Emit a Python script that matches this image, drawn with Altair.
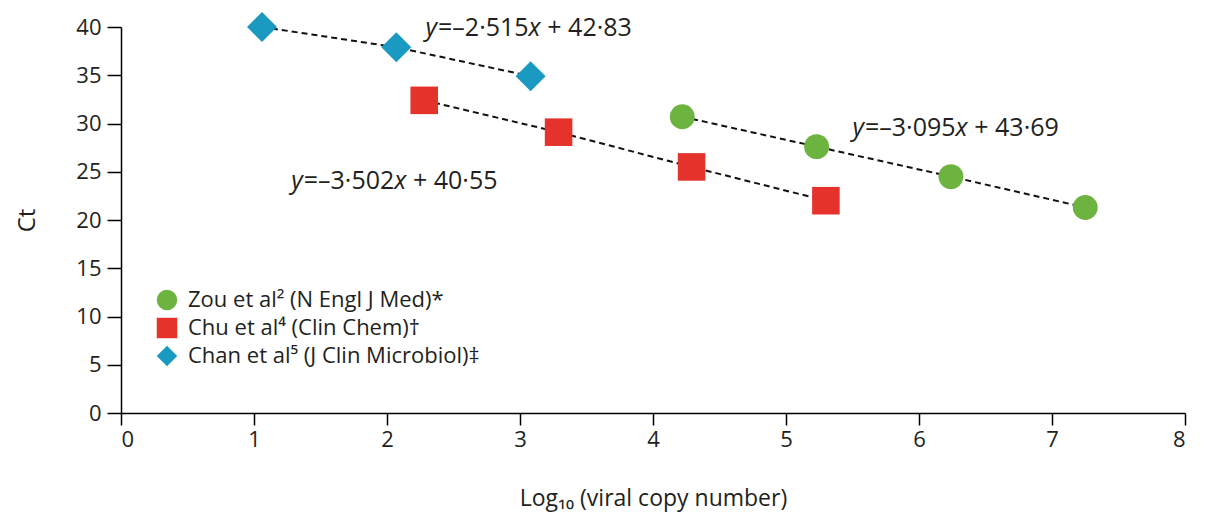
import altair as alt
import pandas as pd

# Data
zou_x = [4.22, 5.23, 6.24, 7.25]
zou_ct = [30.7, 27.6, 24.5, 21.3]
chu_x = [2.28, 3.29, 4.29, 5.30]
chu_ct = [32.4, 29.1, 25.5, 22.0]
chan_x = [1.06, 2.07, 3.08]
chan_ct = [40.0, 37.9, 34.9]

series = ["Zou et al² (N Engl J Med)*", "Chu et al⁴ (Clin Chem)†", "Chan et al⁵ (J Clin Microbiol)‡"]
colors = ["#6db33f", "#e5322a", "#1b9ac1"]
shapes = ["circle", "square", "diamond"]
sizes = [620, 760, 900]

# regression equations, split so that y and x can be set in italics
eq_slope = ["=–2·515", "=–3·095", "=–3·502"]
eq_intercept = ["+ 42·83", "+ 43·69", "+ 40·55"]
eq_x = [2.29, 5.50, 1.28]
eq_ct = [39.9, 29.5, 24.0]

x_ticks = list(range(0, 9))
y_ticks = list(range(0, 41, 5))

FONT = "Open Sans"
INK = "#231f20"
EQ_SIZE = 25

rows = []
for name, xs, ys in zip(series, [zou_x, chu_x, chan_x], [zou_ct, chu_ct, chan_ct]):
    for a, b in zip(xs, ys):
        rows.append({"series": name, "logv": a, "ct": b})
df = pd.DataFrame(rows)
eq_df = pd.DataFrame({"slope": eq_slope, "icpt": eq_intercept, "logv": eq_x, "ct": eq_ct,
                      "yv": ["y"] * 3, "xv": ["x"] * 3})

x_enc = alt.X("logv:Q",
              scale=alt.Scale(domain=[0, 8], nice=False, zero=False),
              axis=alt.Axis(values=x_ticks, title="Log₁₀ (viral copy number)",
                            tickSize=12, labelPadding=4, titlePadding=37,
                            titleFontSize=23, labelFontSize=22, format="d"))
y_enc = alt.Y("ct:Q",
              scale=alt.Scale(domain=[0, 40], nice=False),
              axis=alt.Axis(values=y_ticks, title="Ct", tickSize=14, labelPadding=6,
                            titlePadding=36, titleFontSize=24, labelFontSize=22, format="d"))

legend = alt.Legend(orient="none", legendX=35, legendY=262, title=None,
                    labelFontSize=22, labelFont=FONT, labelColor=INK,
                    symbolSize=420, rowPadding=0, labelOffset=10,
                    symbolOpacity=1, labelLimit=500)
color_enc = alt.Color("series:N", scale=alt.Scale(domain=series, range=colors), legend=legend)
shape_enc = alt.Shape("series:N", scale=alt.Scale(domain=series, range=shapes), legend=legend)

lines = alt.Chart(df).mark_line(color="#111111", strokeDash=[6, 4], strokeWidth=2).encode(
    x=x_enc, y=y_enc, detail="series:N"
)

point_layers = []
for name, sz in zip(series, sizes):
    point_layers.append(
        alt.Chart(df).transform_filter(alt.datum.series == name)
        .mark_point(filled=True, opacity=1, size=sz)
        .encode(x=x_enc, y=y_enc, color=color_enc, shape=shape_enc)
    )

base_eq = alt.Chart(eq_df).encode(x=alt.X("logv:Q"), y=alt.Y("ct:Q"))
w_y = 0.5 * EQ_SIZE
w_mid = 3.62 * EQ_SIZE
w_x = 0.49 * EQ_SIZE
w_sp = 0.26 * EQ_SIZE
eq_y = base_eq.mark_text(align="left", baseline="middle", fontSize=EQ_SIZE, font=FONT,
                         fontStyle="italic", color=INK).encode(text="yv:N")
eq_s = base_eq.mark_text(align="left", baseline="middle", fontSize=EQ_SIZE, font=FONT,
                         color=INK, dx=w_y).encode(text="slope:N")
eq_xv = base_eq.mark_text(align="left", baseline="middle", fontSize=EQ_SIZE, font=FONT,
                          fontStyle="italic", color=INK, dx=w_y + w_mid).encode(text="xv:N")
eq_i = base_eq.mark_text(align="left", baseline="middle", fontSize=EQ_SIZE, font=FONT,
                         color=INK, dx=w_y + w_mid + w_x + w_sp).encode(text="icpt:N")

chart = alt.layer(lines, *point_layers, eq_y, eq_s, eq_xv, eq_i).properties(
    width=1064, height=386,
    autosize=alt.AutoSizeParams(type="none"),
    padding={"left": 113, "top": 19, "right": 13, "bottom": 99},
).configure_view(stroke=None).configure_axis(
    grid=False, domainColor="black", tickColor="black", domainWidth=1.5, tickWidth=1.5,
    labelFont=FONT, titleFont=FONT, labelColor=INK, titleColor=INK, titleFontWeight="normal"
)

chart.save("out.html", embed_options={"renderer": "svg", "actions": False})
